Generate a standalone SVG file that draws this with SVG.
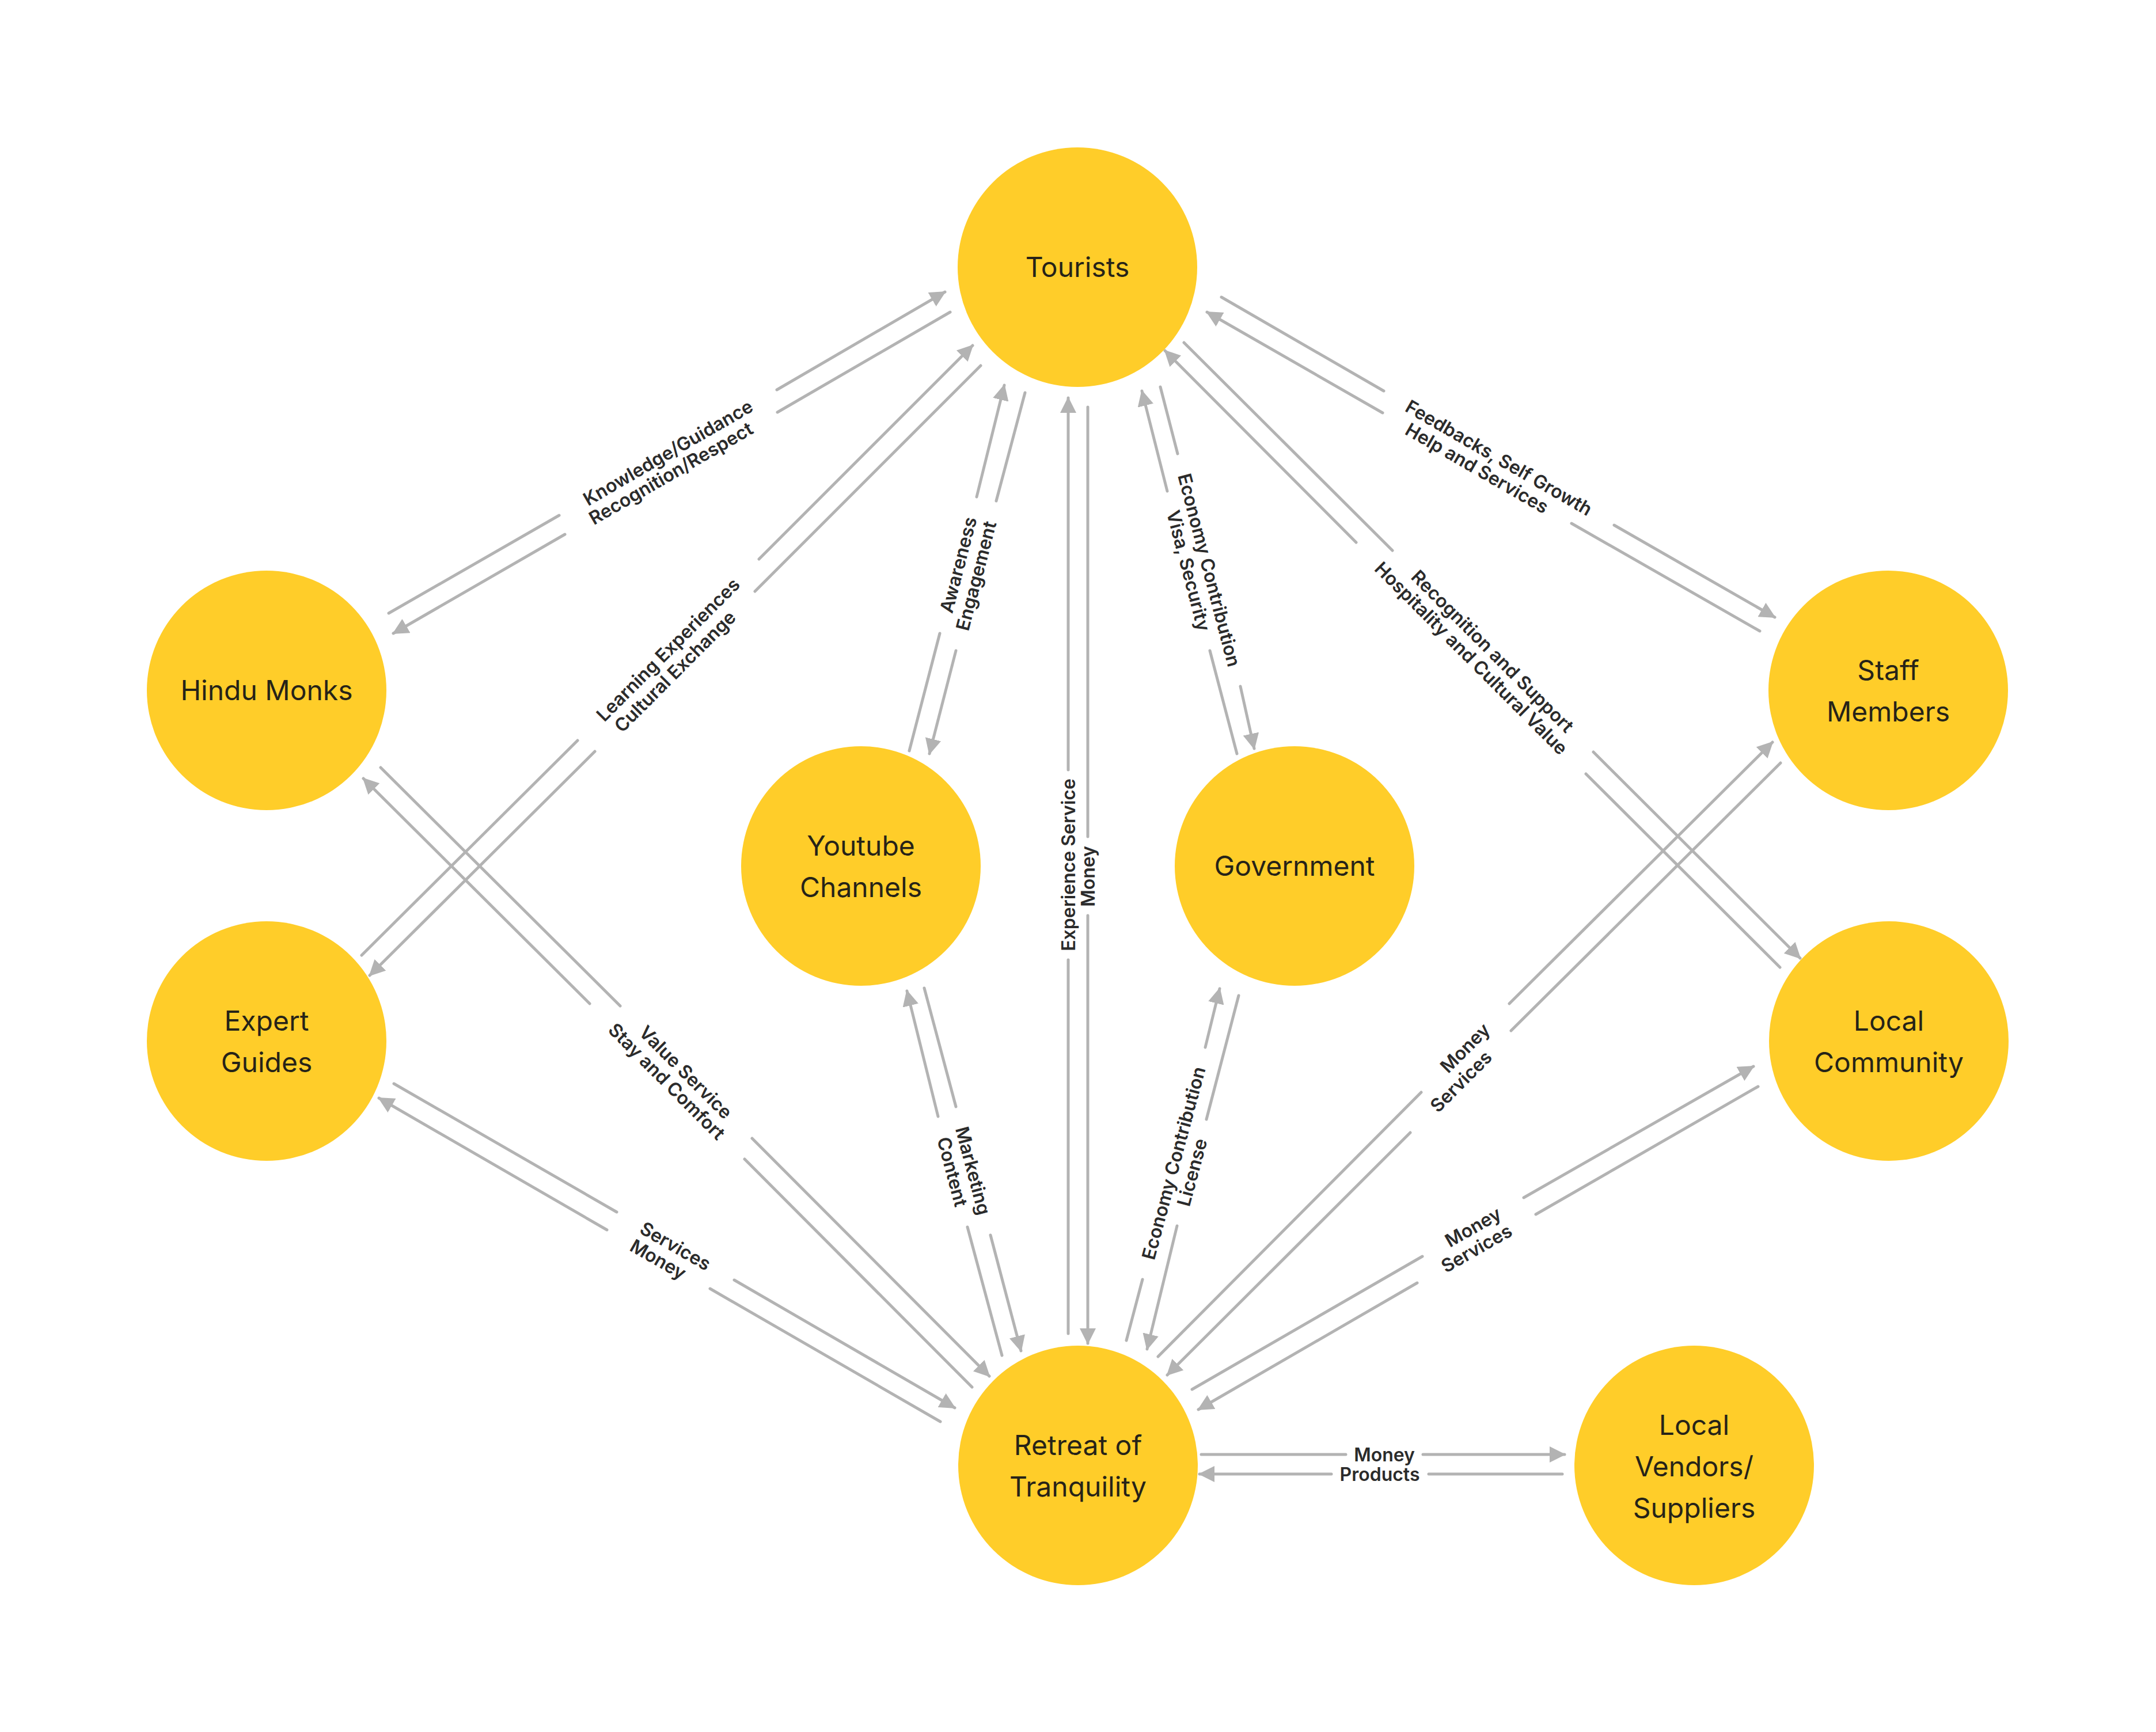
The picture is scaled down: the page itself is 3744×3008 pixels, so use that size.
<svg xmlns="http://www.w3.org/2000/svg" width="3744" height="3008" viewBox="0 0 3744 3008">
<style>
.node circle{fill:#FFCD29}
.node text{font-family:Inter,"Noto Sans","Liberation Sans",sans-serif;font-size:48px;font-weight:400;fill:#262318;text-anchor:middle}
.edge line{stroke:#B3B3B3;stroke-width:5;stroke-linecap:round;fill:none}
.edge line.arr{marker-end:url(#ah)}
.lbl{font-family:Inter,"Noto Sans","Liberation Sans",sans-serif;font-size:32px;font-weight:600;fill:#2B2B2B;text-anchor:middle}
</style>
<defs>
<marker id="ah" markerUnits="userSpaceOnUse" markerWidth="28" markerHeight="28" viewBox="0 0 28 28" refX="26" refY="14" orient="auto">
<path d="M0,0 L28,14 L0,28 Z" fill="#B3B3B3"/>
</marker>
</defs>
<rect width="3744" height="3008" fill="#FFFFFF"/>
<g id="connectors">
<g class="edge" id="e-monks-tourists">
<line x1="675" y1="1065" x2="971" y2="895"/><line class="arr" x1="1349" y1="677" x2="1641" y2="507"/>
<text class="lbl" dy=".36em" transform="translate(1160,786) rotate(-30)">Knowledge/Guidance</text>
<line x1="1650" y1="542" x2="1350" y2="716"/><line class="arr" x1="981" y1="928" x2="683" y2="1100"/>
<text class="lbl" dy=".36em" transform="translate(1165,822) rotate(-30)">Recognition/Respect</text>
</g>
<g class="edge" id="e-guides-tourists">
<line x1="628" y1="1659" x2="1003" y2="1286"/><line class="arr" x1="1318" y1="971" x2="1689" y2="600"/>
<text class="lbl" dy=".36em" transform="translate(1160,1128) rotate(-45)">Learning Experiences</text>
<line x1="1703" y1="635" x2="1311" y2="1027"/><line class="arr" x1="1033" y1="1305" x2="642" y2="1694"/>
<text class="lbl" dy=".36em" transform="translate(1172,1166) rotate(-45)">Cultural Exchange</text>
</g>
<g class="edge" id="e-youtube-tourists">
<line x1="1579" y1="1304" x2="1632" y2="1100"/><line class="arr" x1="1696" y1="863" x2="1744" y2="669"/>
<text class="lbl" dy=".36em" transform="translate(1664,981) rotate(-75.5)">Awareness</text>
<line x1="1780" y1="682" x2="1730" y2="870"/><line class="arr" x1="1660" y1="1130" x2="1614" y2="1309"/>
<text class="lbl" dy=".36em" transform="translate(1695,1000) rotate(-75.5)">Engagement</text>
</g>
<g class="edge" id="e-retreat-tourists">
<line x1="1855" y1="2316" x2="1855" y2="1667"/><line class="arr" x1="1855" y1="1337" x2="1855" y2="691"/>
<text class="lbl" dy=".36em" transform="translate(1855,1502) rotate(-90)">Experience Service</text>
<line x1="1889" y1="707" x2="1889" y2="1453"/><line class="arr" x1="1889" y1="1590" x2="1889" y2="2333"/>
<text class="lbl" dy=".36em" transform="translate(1889,1522) rotate(-90)">Money</text>
</g>
<g class="edge" id="e-government-tourists">
<line x1="2148" y1="1309" x2="2101" y2="1130"/><line class="arr" x1="2027" y1="853" x2="1983" y2="679"/>
<text class="lbl" dy=".36em" transform="translate(2064,991) rotate(75.3)">Visa, Security</text>
<line x1="2015" y1="672" x2="2045" y2="788"/><line class="arr" x1="2154" y1="1192" x2="2178" y2="1300"/>
<text class="lbl" dy=".36em" transform="translate(2100,990) rotate(75.3)">Economy Contribution</text>
</g>
<g class="edge" id="e-tourists-community">
<line x1="2056" y1="595" x2="2418" y2="956"/><line class="arr" x1="2767" y1="1306" x2="3126" y2="1664"/>
<text class="lbl" dy=".36em" transform="translate(2592,1131) rotate(45)">Recognition and Support</text>
<line x1="3091" y1="1680" x2="2754" y2="1344"/><line class="arr" x1="2355" y1="942" x2="2023" y2="609"/>
<text class="lbl" dy=".36em" transform="translate(2555,1143) rotate(45)">Hospitality and Cultural Value</text>
</g>
<g class="edge" id="e-tourists-staff">
<line x1="2121" y1="516" x2="2403" y2="679"/><line class="arr" x1="2803" y1="912" x2="3082" y2="1072"/>
<text class="lbl" dy=".36em" transform="translate(2603,795) rotate(30)">Feedbacks, Self Growth</text>
<line x1="3056" y1="1096" x2="2729" y2="909"/><line class="arr" x1="2401" y1="717" x2="2096" y2="542"/>
<text class="lbl" dy=".36em" transform="translate(2565,813) rotate(30)">Help and Services</text>
</g>
<g class="edge" id="e-monks-retreat">
<line x1="661" y1="1333" x2="1077" y2="1747"/><line class="arr" x1="1306" y1="1977" x2="1718" y2="2390"/>
<text class="lbl" dy=".36em" transform="translate(1191,1862) rotate(45)">Value Service</text>
<line x1="1688" y1="2409" x2="1293" y2="2013"/><line class="arr" x1="1024" y1="1743" x2="631" y2="1352"/>
<text class="lbl" dy=".36em" transform="translate(1158,1878) rotate(45)">Stay and Comfort</text>
</g>
<g class="edge" id="e-guides-retreat">
<line x1="684" y1="1882" x2="1071" y2="2105"/><line class="arr" x1="1275" y1="2223" x2="1658" y2="2445"/>
<text class="lbl" dy=".36em" transform="translate(1173,2164) rotate(29.9)">Services</text>
<line x1="1633" y1="2469" x2="1233" y2="2238"/><line class="arr" x1="1054" y1="2136" x2="658" y2="1907"/>
<text class="lbl" dy=".36em" transform="translate(1143,2187) rotate(29.9)">Money</text>
</g>
<g class="edge" id="e-youtube-retreat">
<line x1="1605" y1="1716" x2="1660" y2="1922"/><line class="arr" x1="1720" y1="2145" x2="1773" y2="2346"/>
<text class="lbl" dy=".36em" transform="translate(1690,2033) rotate(75.1)">Marketing</text>
<line x1="1740" y1="2354" x2="1680" y2="2131"/><line class="arr" x1="1629" y1="1939" x2="1575" y2="1721"/>
<text class="lbl" dy=".36em" transform="translate(1654,2035) rotate(75.1)">Content</text>
</g>
<g class="edge" id="e-government-retreat">
<line x1="1956" y1="2328" x2="1984" y2="2222"/><line class="arr" x1="2093" y1="1819" x2="2118" y2="1717"/>
<text class="lbl" dy=".36em" transform="translate(2038,2020) rotate(-75)">Economy Contribution</text>
<line x1="2151" y1="1729" x2="2095" y2="1944"/><line class="arr" x1="2044" y1="2129" x2="1992" y2="2343"/>
<text class="lbl" dy=".36em" transform="translate(2070,2036) rotate(-75)">License</text>
</g>
<g class="edge" id="e-staff-retreat">
<line x1="2011" y1="2356" x2="2468" y2="1897"/><line class="arr" x1="2621" y1="1743" x2="3078" y2="1289"/>
<text class="lbl" dy=".36em" transform="translate(2544,1820) rotate(-45)">Money</text>
<line x1="3092" y1="1325" x2="2624" y2="1790"/><line class="arr" x1="2449" y1="1967" x2="2027" y2="2388"/>
<text class="lbl" dy=".36em" transform="translate(2537,1878) rotate(-45)">Services</text>
</g>
<g class="edge" id="e-community-retreat">
<line x1="2070" y1="2413" x2="2470" y2="2182"/><line class="arr" x1="2646" y1="2080" x2="3045" y2="1852"/>
<text class="lbl" dy=".36em" transform="translate(2558,2131) rotate(-29.8)">Money</text>
<line x1="3053" y1="1887" x2="2667" y2="2109"/><line class="arr" x1="2461" y1="2228" x2="2081" y2="2448"/>
<text class="lbl" dy=".36em" transform="translate(2564,2168) rotate(-29.8)">Services</text>
</g>
<g class="edge" id="e-retreat-vendors">
<line x1="2086" y1="2526" x2="2337" y2="2526"/><line class="arr" x1="2471" y1="2526" x2="2717" y2="2526"/>
<text class="lbl" dy=".36em" x="2404" y="2526">Money</text>
<line x1="2713" y1="2560" x2="2481" y2="2560"/><line class="arr" x1="2312" y1="2560" x2="2083" y2="2560"/>
<text class="lbl" dy=".36em" x="2396" y="2560">Products</text>
</g>
</g>
<g id="node-tourists" class="node"><circle cx="1871" cy="464" r="208"/><text x="1871" y="481">Tourists</text></g>
<g id="node-hindu-monks" class="node"><circle cx="463" cy="1199" r="208"/><text x="463" y="1216">Hindu Monks</text></g>
<g id="node-expert-guides" class="node"><circle cx="463" cy="1808" r="208"/><text x="463" y="1790">Expert</text><text x="463" y="1862">Guides</text></g>
<g id="node-youtube-channels" class="node"><circle cx="1495" cy="1504" r="208"/><text x="1495" y="1486">Youtube</text><text x="1495" y="1558">Channels</text></g>
<g id="node-government" class="node"><circle cx="2248" cy="1504" r="208"/><text x="2248" y="1521">Government</text></g>
<g id="node-staff-members" class="node"><circle cx="3279" cy="1199" r="208"/><text x="3279" y="1181">Staff</text><text x="3279" y="1253">Members</text></g>
<g id="node-local-community" class="node"><circle cx="3280" cy="1808" r="208"/><text x="3280" y="1790">Local</text><text x="3280" y="1862">Community</text></g>
<g id="node-retreat" class="node"><circle cx="1872" cy="2545" r="208"/><text x="1872" y="2527">Retreat of</text><text x="1872" y="2599">Tranquility</text></g>
<g id="node-local-vendors" class="node"><circle cx="2942" cy="2545" r="208"/><text x="2942" y="2492">Local</text><text x="2942" y="2564">Vendors/</text><text x="2942" y="2636">Suppliers</text></g>
</svg>
